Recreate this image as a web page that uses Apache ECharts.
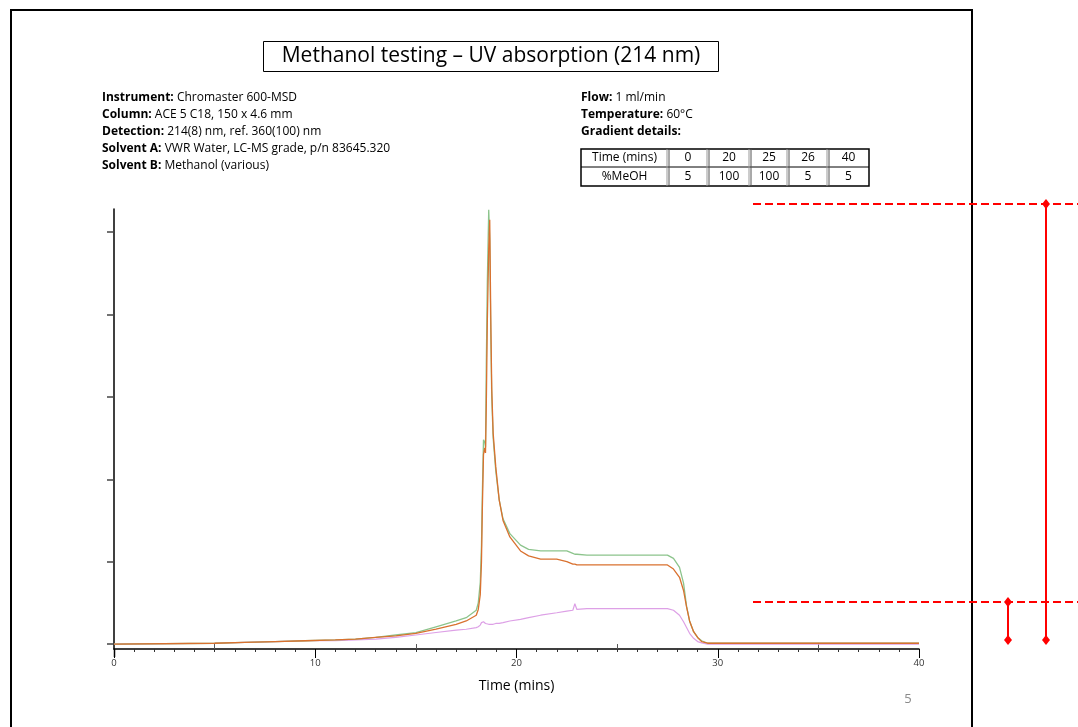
<!DOCTYPE html>
<html>
<head>
<meta charset="utf-8">
<script src="https://cdn.jsdelivr.net/npm/echarts@6/dist/echarts.min.js"></script>
<style>
html,body{margin:0;padding:0;background:#fff;}
#main{width:1078px;height:727px;}
</style>
</head>
<body>
<div id="main"></div>
<script>
// retention time (mins), common to all traces
var times = [0, 5, 6.5, 8, 9.5, 11, 12, 13, 14, 15, 16, 17, 17.5, 18, 18.1, 18.2, 18.26, 18.3, 18.36, 18.42,
	18.46, 18.5, 18.55, 18.62, 18.67, 18.72, 18.77, 18.84, 18.97, 19.14, 19.33, 19.67, 20.2, 20.6, 21.2, 22, 22.5,
	22.8, 22.9, 23.0, 23.5, 24, 25, 26, 27, 27.5, 27.8, 28.1, 28.3, 28.45, 28.6, 28.8, 29.0, 29.2, 29.5, 30, 35, 40];
var greenTrace = [0, 0.01, 0.02, 0.03, 0.04, 0.05, 0.06, 0.08, 0.11, 0.14, 0.21, 0.28, 0.32, 0.41, 0.5, 0.75, 1.2, 1.8, 2.48, 2.45,
	2.39, 3.4, 4.4, 5.27, 4.9, 3.8, 3.0, 2.5, 2.1, 1.75, 1.52, 1.34, 1.2, 1.15, 1.13, 1.13, 1.13,
	1.1, 1.09, 1.09, 1.08, 1.08, 1.08, 1.08, 1.08, 1.08, 1.04, 0.93, 0.74, 0.46, 0.28, 0.15, 0.08, 0.04, 0.01, 0.01, 0.01, 0.01];
var orangeTrace = [0, 0.01, 0.02, 0.03, 0.04, 0.05, 0.06, 0.08, 0.1, 0.13, 0.18, 0.24, 0.28, 0.35, 0.42, 0.6, 1.0, 1.6, 2.3, 2.38,
	2.32, 2.9, 3.9, 4.8, 5.15, 4.0, 3.1, 2.56, 2.15, 1.75, 1.5, 1.3, 1.13, 1.07, 1.03, 1.03, 1.0,
	0.97, 0.97, 0.96, 0.96, 0.96, 0.96, 0.96, 0.96, 0.96, 0.91, 0.81, 0.65, 0.45, 0.28, 0.15, 0.08, 0.03, 0.01, 0.01, 0.01, 0.01];
var pinkTrace = [0, 0.01, 0.02, 0.03, 0.04, 0.04, 0.05, 0.06, 0.08, 0.11, 0.14, 0.17, 0.18, 0.2, 0.21, 0.23, 0.26, 0.27, 0.27, 0.26,
	0.25, 0.25, 0.24, 0.24, 0.24, 0.24, 0.24, 0.24, 0.25, 0.25, 0.26, 0.28, 0.3, 0.32, 0.35, 0.38, 0.4,
	0.41, 0.49, 0.42, 0.43, 0.43, 0.43, 0.43, 0.43, 0.43, 0.41, 0.35, 0.27, 0.2, 0.13, 0.07, 0.03, 0.015, 0, 0, 0, 0];

var xMidTicks = [5, 15, 25, 35];
var yTicks = [0, 1, 2, 3, 4, 5];

// red measurement markers (absorbance units)
var upperLevel = 5.34;
var lowerLevel = 0.51;
var baseLevel = 0.05;

var titleText = 'Methanol testing \u2013 UV absorption (214 nm)';
var infoLabels = ['Instrument:', 'Column:', 'Detection:', 'Solvent A:', 'Solvent B:'];
var infoValues = ['Chromaster 600-MSD', 'ACE 5 C18, 150 x 4.6 mm', '214(8) nm, ref. 360(100) nm',
	'VWR Water, LC-MS grade, p/n 83645.320', 'Methanol (various)'];
var condLabels = ['Flow:', 'Temperature:', 'Gradient details:'];
var condValues = ['1 ml/min', '60\u00B0C', ''];
var gradientTime = [0, 20, 25, 26, 40];
var gradientMeOH = [5, 100, 100, 5, 5];

var FONT = '"Open Sans", Lato, sans-serif';

function pairs(ys){
	return times.map(function(t, i){ return [t, ys[i]]; });
}

function textLines(labels, values, x, y0, step){
	var out = [];
	for (var i = 0; i < labels.length; i++) {
		out.push({
			type: 'text', x: x, y: y0 + i * step,
			style: {
				text: '{b|' + labels[i] + '} ' + values[i],
				font: '12px ' + FONT, fill: '#000', verticalAlign: 'middle',
				rich: { b: { fontWeight: 'bold', fontSize: 12, fontFamily: FONT } }
			}
		});
	}
	return out;
}

function gradientTable(){
	var cols = [581, 668, 708, 750, 788, 828, 869];
	var rows = [149, 167, 186];
	var els = [];
	els.push({ type: 'rect', shape: { x: cols[0], y: rows[0], width: cols[6] - cols[0], height: rows[2] - rows[0] },
		style: { fill: 'none', stroke: '#000', lineWidth: 1.5 } });
	els.push({ type: 'line', shape: { x1: cols[0], y1: rows[1], x2: cols[6], y2: rows[1] }, style: { stroke: '#000', lineWidth: 1 } });
	for (var c = 1; c < 6; c++) {
		els.push({ type: 'line', shape: { x1: cols[c] - 1, y1: rows[0], x2: cols[c] - 1, y2: rows[2] }, style: { stroke: '#999', lineWidth: 1 } });
		els.push({ type: 'line', shape: { x1: cols[c] + 1, y1: rows[0], x2: cols[c] + 1, y2: rows[2] }, style: { stroke: '#555', lineWidth: 1 } });
	}
	var rowLabels = ['Time (mins)', '%MeOH'];
	var rowData = [gradientTime, gradientMeOH];
	for (var r = 0; r < 2; r++) {
		var cy = (rows[r] + rows[r + 1]) / 2;
		els.push({ type: 'text', x: (cols[0] + cols[1]) / 2, y: cy,
			style: { text: rowLabels[r], font: '12px ' + FONT, fill: '#000', align: 'center', verticalAlign: 'middle' } });
		for (var k = 0; k < 5; k++) {
			els.push({ type: 'text', x: (cols[k + 1] + cols[k + 2]) / 2, y: cy,
				style: { text: String(rowData[r][k]), font: '12px ' + FONT, fill: '#000', align: 'center', verticalAlign: 'middle' } });
		}
	}
	return els;
}

var myChart = echarts.init(document.getElementById('main'), null, { renderer: 'canvas' });

var graphics = [
	{ type: 'rect', shape: { x: 11, y: 10, width: 961, height: 740 }, style: { fill: 'none', stroke: '#000', lineWidth: 2 }, z: 100 },
	{ type: 'rect', shape: { x: 263.5, y: 41.5, width: 455, height: 30 }, style: { fill: '#fff', stroke: '#000', lineWidth: 1 } },
	{ type: 'text', x: 491, y: 56, style: { text: titleText, font: '21px ' + FONT, fill: '#000', align: 'center', verticalAlign: 'middle' } },
	{ type: 'text', x: 908, y: 699, style: { text: '5', font: '13px ' + FONT, fill: '#8a8a8a', align: 'center', verticalAlign: 'middle' } },
	// y axis line runs a little below the time axis
	{ type: 'line', shape: { x1: 114.5, y1: 649, x2: 114.5, y2: 657 }, style: { stroke: '#000', lineWidth: 1.5 } }
].concat(textLines(infoLabels, infoValues, 102, 98, 17))
 .concat(textLines(condLabels, condValues, 581, 98, 17))
 .concat(gradientTable());

var option = {
	animation: false,
	backgroundColor: '#fff',
	grid: { left: 114, right: 159, top: 209, bottom: 78 },
	xAxis: [{
		type: 'value', min: 0, max: 40, interval: 10,
		name: 'Time (mins)', nameLocation: 'middle', nameGap: 30,
		nameTextStyle: { fontFamily: FONT, fontSize: 14, color: '#000' },
		axisLine: { onZero: false, lineStyle: { color: '#000', width: 1.5 } },
		axisTick: { length: 9, lineStyle: { color: '#000' } },
		minorTick: { show: true, splitNumber: 10, length: 3, lineStyle: { color: '#333' } },
		axisLabel: { fontFamily: FONT, fontSize: 9.5, color: '#333', margin: 9 },
		splitLine: { show: false }
	}, {
		type: 'value', min: 0, max: 40, position: 'bottom', offset: 0,
		axisLine: { show: false },
		axisTick: { show: true, length: 5, customValues: xMidTicks, lineStyle: { color: '#555' } },
		axisLabel: { show: false },
		splitLine: { show: false }
	}],
	yAxis: {
		type: 'value', min: -0.06, max: 5.28,
		axisLine: { show: true, lineStyle: { color: '#000', width: 1.5 } },
		axisTick: { show: true, length: 7, customValues: yTicks, lineStyle: { color: '#444', width: 1.5 } },
		axisLabel: { show: false },
		splitLine: { show: false }
	},
	series: [
		{ name: 'pink', type: 'line', data: pairs(pinkTrace), showSymbol: false, lineStyle: { color: '#dda0e6', width: 1.2 } },
		{ name: 'green', type: 'line', data: pairs(greenTrace), showSymbol: false, lineStyle: { color: '#8cc48c', width: 1.3 } },
		{ name: 'orange', type: 'line', data: pairs(orangeTrace), showSymbol: false, lineStyle: { color: '#d9712f', width: 1.3 } }
	],
	graphic: graphics
};
myChart.setOption(option);

// red measuring bars placed on the y scale
var yUp = myChart.convertToPixel({ yAxisIndex: 0 }, upperLevel);
var yLow = myChart.convertToPixel({ yAxisIndex: 0 }, lowerLevel);
var yBase = myChart.convertToPixel({ yAxisIndex: 0 }, baseLevel);
function diamond(x, y){
	return { type: 'polygon', shape: { points: [[x, y - 5], [x + 4, y], [x, y + 5], [x - 4, y]] }, style: { fill: '#ff0000' }, z: 110 };
}
var red = { stroke: '#ff0000', lineWidth: 2 };
var marks = [
	{ type: 'line', shape: { x1: 753, y1: yUp, x2: 1078, y2: yUp }, style: { stroke: '#ff0000', lineWidth: 2, lineDash: [8, 4] }, z: 105 },
	{ type: 'line', shape: { x1: 753, y1: yLow, x2: 1078, y2: yLow }, style: { stroke: '#ff0000', lineWidth: 2, lineDash: [8, 4] }, z: 105 },
	{ type: 'line', shape: { x1: 1046, y1: yUp, x2: 1046, y2: yBase }, style: red, z: 105 },
	{ type: 'line', shape: { x1: 1008, y1: yLow, x2: 1008, y2: yBase }, style: red, z: 105 },
	diamond(1046, yUp), diamond(1046, yBase), diamond(1008, yLow), diamond(1008, yBase)
];
myChart.setOption({ graphic: graphics.concat(marks) });
</script>
</body>
</html>
